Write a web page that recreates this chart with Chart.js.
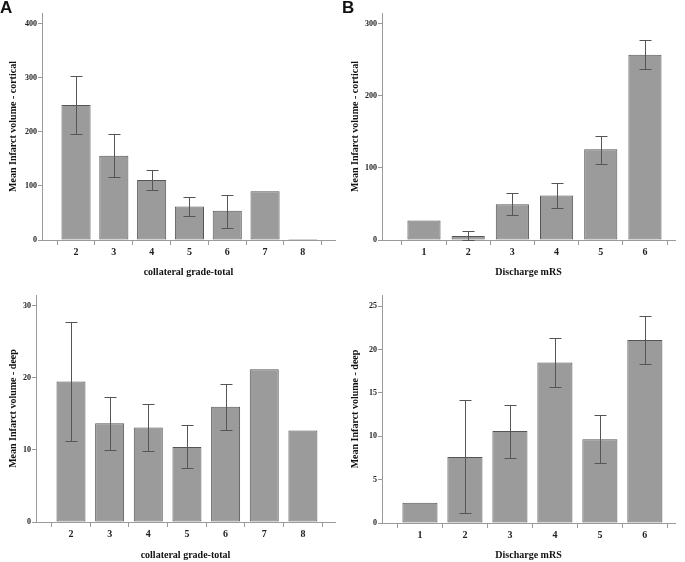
<!DOCTYPE html>
<html>
<head>
<meta charset="utf-8">
<script src="https://cdn.jsdelivr.net/npm/chart.js@4/dist/chart.umd.min.js"></script>
<style>
  body { margin: 0; background: #fff; }
  #wrap { position: relative; width: 685px; height: 562px; }
  .panel { position: absolute; }
  .tag { position: absolute; font: bold 17px "Liberation Sans", Arial, sans-serif; color: #111; }
</style>
</head>
<body>
<div id="wrap">
  <div class="panel" style="left:0;top:0;width:342px;height:280px"><canvas id="cA"></canvas></div>
  <div class="panel" style="left:342px;top:0;width:343px;height:280px"><canvas id="cB"></canvas></div>
  <div class="panel" style="left:0;top:280px;width:342px;height:282px"><canvas id="cC"></canvas></div>
  <div class="panel" style="left:342px;top:280px;width:343px;height:282px"><canvas id="cD"></canvas></div>
  <div class="tag" style="left:0;top:-2px">A</div>
  <div class="tag" style="left:342px;top:-2px">B</div>
</div>
<script>
// Dados
// Painel A: grau colateral x volume cortical
const collateralGrades = [2, 3, 4, 5, 6, 7, 8];
const corticalByGrade = [250, 156, 111, 62, 54, 90, 2];
const corticalByGradeLow = [196, 116, 92, 44, 23, null, null];
const corticalByGradeHigh = [304, 196, 129, 80, 83, null, null];

// Painel B: mRS na alta x volume cortical
const dischargeMRS = [1, 2, 3, 4, 5, 6];
const corticalByMRS = [27, 5.6, 49.5, 61.6, 126, 257];
const corticalByMRSLow = [null, 0, 34, 44, 106, 237];
const corticalByMRSHigh = [null, 12.5, 65, 79, 145, 277];

// Painel C: grau colateral x volume profundo
const deepByGrade = [19.5, 13.7, 13.1, 10.4, 16.0, 21.2, 12.7];
const deepByGradeLow = [11.3, 10.0, 9.8, 7.5, 12.8, null, null];
const deepByGradeHigh = [27.7, 17.4, 16.4, 13.4, 19.1, null, null];

// Painel D: mRS na alta x volume profundo
const deepByMRS = [2.35, 7.6, 10.6, 18.5, 9.65, 21.1];
const deepByMRSLow = [null, 1.1, 7.5, 15.7, 6.9, 18.3];
const deepByMRSHigh = [null, 14.15, 13.6, 21.35, 12.45, 23.85];

const axisColor = '#9a9a9a';
const serif = '"Liberation Serif", "DejaVu Serif", serif';

// Plugin para desenhar as barras de erro
const errorBars = {
    id: 'errorBars',
    afterDatasetsDraw(chart, args, opts) {
        const ctx = chart.ctx;
        const meta = chart.getDatasetMeta(0);
        const y = chart.scales.y;
        ctx.save();
        ctx.strokeStyle = '#555';
        ctx.lineWidth = 1;
        meta.data.forEach((bar, i) => {
            const lo = opts.low[i];
            const hi = opts.high[i];
            if (lo === null || hi === null) return;
            const x = Math.round(bar.x) + 0.5;
            const y1 = Math.round(y.getPixelForValue(hi)) + 0.5;
            const y2 = Math.round(y.getPixelForValue(lo)) + 0.5;
            ctx.beginPath();
            ctx.moveTo(x, y1); ctx.lineTo(x, y2);
            ctx.moveTo(x - 6, y1); ctx.lineTo(x + 6, y1);
            ctx.moveTo(x - 6, y2); ctx.lineTo(x + 6, y2);
            ctx.stroke();
        });
        ctx.restore();
    }
};

function makePanel(id, cfg) {
    const ctx = document.getElementById(id).getContext('2d');
    return new Chart(ctx, {
        type: 'bar',
        data: {
            datasets: [{
                data: cfg.cats.map((c, i) => ({ x: c, y: cfg.values[i] })),
                backgroundColor: '#9b9b9b',
                borderColor: '#555',
                borderWidth: 1,
                borderSkipped: false,
                barPercentage: cfg.barPct,
                categoryPercentage: 1
            }]
        },
        options: {
            responsive: true,
            maintainAspectRatio: false,
            animation: false,
            layout: { padding: { top: cfg.padTop, right: cfg.padRight, left: 0, bottom: 0 } },
            plugins: {
                legend: { display: false },
                tooltip: { enabled: false },
                errorBars: { low: cfg.low, high: cfg.high }
            },
            scales: {
                x: {
                    type: 'linear',
                    min: cfg.xMin,
                    max: cfg.xMax,
                    offset: false,
                    afterBuildTicks: s => { s.ticks = cfg.cats.map(v => ({ value: v })); },
                    afterFit: s => { s.height = cfg.xHeight; },
                    grid: { drawOnChartArea: false, color: axisColor, tickLength: 5 },
                    border: { color: axisColor },
                    ticks: { color: '#222', padding: 1, font: { family: serif, size: 10, weight: 'bold' } },
                    title: {
                        display: true, text: cfg.xTitle, color: '#111',
                        padding: { top: 0, bottom: cfg.xTitlePad },
                        font: { family: serif, size: 10, weight: 'bold' }
                    }
                },
                y: {
                    min: 0,
                    max: cfg.yMax,
                    afterFit: s => { s.width = cfg.yWidth; },
                    grid: { drawOnChartArea: false, color: axisColor, tickLength: 4 },
                    border: { color: axisColor },
                    ticks: { stepSize: cfg.step, includeBounds: false, color: '#222', padding: 1, font: { family: serif, size: 8, weight: 'bold' } },
                    title: {
                        display: true, text: cfg.yTitle, color: '#111',
                        padding: { top: 7, bottom: 0 },
                        font: { family: serif, size: 10, weight: 'bold' }
                    }
                }
            }
        },
        plugins: [errorBars]
    });
}

makePanel('cA', {
    cats: collateralGrades, values: corticalByGrade, low: corticalByGradeLow, high: corticalByGradeHigh,
    xMin: 1.10, xMax: 8.85, yMax: 420, step: 100, barPct: 0.77,
    padTop: 13, padRight: 7, yWidth: 42, xHeight: 40, xTitlePad: 2,
    xTitle: 'collateral grade-total', yTitle: 'Mean Infarct volume - cortical'
});

makePanel('cB', {
    cats: dischargeMRS, values: corticalByMRS, low: corticalByMRSLow, high: corticalByMRSHigh,
    xMin: 0.05, xMax: 6.68, yMax: 315, step: 100, barPct: 0.75,
    padTop: 13, padRight: 10, yWidth: 40, xHeight: 40, xTitlePad: 2,
    xTitle: 'Discharge mRS', yTitle: 'Mean Infarct volume - cortical'
});

makePanel('cC', {
    cats: collateralGrades, values: deepByGrade, low: deepByGradeLow, high: deepByGradeHigh,
    xMin: 1.095, xMax: 8.83, yMax: 31.5, step: 10, barPct: 0.75,
    padTop: 15, padRight: 7, yWidth: 36, xHeight: 40, xTitlePad: 1,
    xTitle: 'collateral grade-total', yTitle: 'Mean Infarct volume - deep'
});

makePanel('cD', {
    cats: dischargeMRS, values: deepByMRS, low: deepByMRSLow, high: deepByMRSHigh,
    xMin: 0.156, xMax: 6.67, yMax: 26.3, step: 5, barPct: 0.78,
    padTop: 15, padRight: 10, yWidth: 40, xHeight: 39, xTitlePad: 1,
    xTitle: 'Discharge mRS', yTitle: 'Mean Infarct volume - deep'
});
</script>
</body>
</html>
